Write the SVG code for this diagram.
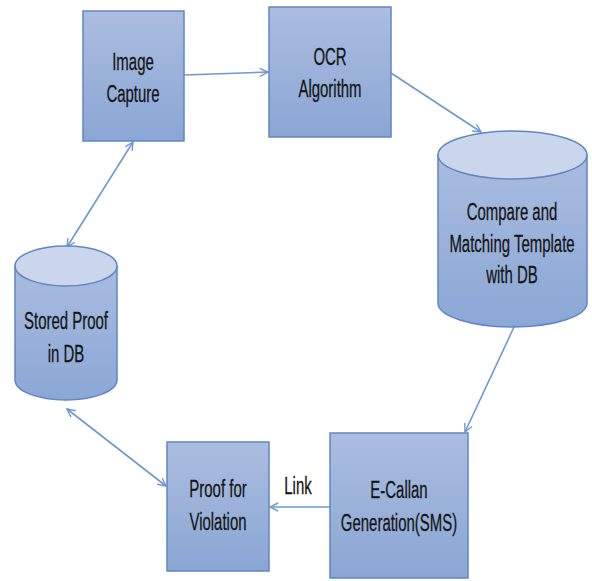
<svg xmlns="http://www.w3.org/2000/svg" width="592" height="581" viewBox="0 0 592 581">
  <defs>
    <linearGradient id="boxFill" x1="0" y1="0" x2="0" y2="1">
      <stop offset="0" stop-color="#abbde0"/>
      <stop offset="1" stop-color="#8aa6d4"/>
    </linearGradient>
    <linearGradient id="cylFill" x1="0" y1="0" x2="0" y2="1">
      <stop offset="0" stop-color="#a9bce0"/>
      <stop offset="1" stop-color="#8ba7d5"/>
    </linearGradient>
    <marker id="chev" viewBox="0 0 10 10" refX="9" refY="5" markerWidth="10" markerHeight="10" markerUnits="userSpaceOnUse" orient="auto-start-reverse">
      <path d="M1,1 L9,5 L1,9" fill="none" stroke="#6f97d2" stroke-width="1.4"/>
    </marker>
    <style>
      .box { fill: url(#boxFill); stroke: #5f87c3; stroke-width: 1.5; }
      .cyl { fill: url(#cylFill); stroke: #5f87c3; stroke-width: 1.5; }
      .cyltop { fill: #c9d6ec; stroke: #5f87c3; stroke-width: 1.5; }
      .lbl { font-family: "Liberation Sans", Arial, sans-serif; font-size: 22px; fill: #141414; text-anchor: middle; stroke: #141414; stroke-width: 0.25; }
      .conn { fill: none; stroke: #6f97d2; stroke-width: 1.6; }
    </style>
  </defs>

  <rect width="592" height="581" fill="#ffffff"/>

  <!-- connectors -->
  <g id="connectors">
    <line class="conn" x1="184" y1="75" x2="268" y2="72" marker-end="url(#chev)"/>
    <line class="conn" x1="391" y1="73" x2="481" y2="132" marker-end="url(#chev)"/>
    <line class="conn" x1="514" y1="327" x2="465" y2="432" marker-end="url(#chev)"/>
    <line class="conn" x1="330" y1="507" x2="270" y2="507" marker-end="url(#chev)"/>
    <line class="conn" x1="133" y1="142" x2="67" y2="247" marker-start="url(#chev)" marker-end="url(#chev)"/>
    <line class="conn" x1="67" y1="409" x2="166" y2="486" marker-start="url(#chev)" marker-end="url(#chev)"/>
    <text class="lbl" transform="translate(298 494) scale(0.68 1.08)">Link</text>
  </g>

  <!-- Image Capture -->
  <g id="image-capture">
    <rect class="box" x="83" y="11" width="101" height="130"/>
    <text class="lbl" transform="translate(133 70) scale(0.68 1.08)">Image</text>
    <text class="lbl" transform="translate(133 102) scale(0.68 1.08)">Capture</text>
  </g>

  <!-- OCR Algorithm -->
  <g id="ocr-algorithm">
    <rect class="box" x="269" y="7" width="122" height="130"/>
    <text class="lbl" transform="translate(330 65) scale(0.68 1.08)">OCR</text>
    <text class="lbl" transform="translate(330 97) scale(0.68 1.08)">Algorithm</text>
  </g>

  <!-- Compare and Matching Template with DB -->
  <g id="compare-db">
    <path class="cyl" d="M438,155 L438,303 A74.5,24 0 0 0 587,303 L587,155 Z"/>
    <ellipse class="cyltop" cx="512.5" cy="155" rx="74.5" ry="24"/>
    <text class="lbl" transform="translate(512 220) scale(0.68 1.08)">Compare and</text>
    <text class="lbl" transform="translate(512 252) scale(0.68 1.08)">Matching Template</text>
    <text class="lbl" transform="translate(512 283) scale(0.68 1.08)">with DB</text>
  </g>

  <!-- Stored Proof in DB -->
  <g id="stored-proof">
    <path class="cyl" d="M15,266 L15,380 A51,20 0 0 0 117,380 L117,266 Z"/>
    <ellipse class="cyltop" cx="66" cy="266" rx="51" ry="20"/>
    <text class="lbl" transform="translate(66 329) scale(0.68 1.08)">Stored Proof</text>
    <text class="lbl" transform="translate(66 362) scale(0.68 1.08)">in DB</text>
  </g>

  <!-- Proof for Violation -->
  <g id="proof-violation">
    <rect class="box" x="167" y="442" width="102" height="129"/>
    <text class="lbl" transform="translate(218 497) scale(0.68 1.08)">Proof for</text>
    <text class="lbl" transform="translate(218 530) scale(0.68 1.08)">Violation</text>
  </g>

  <!-- E-Callan Generation(SMS) -->
  <g id="e-callan">
    <rect class="box" x="330" y="433" width="138" height="145"/>
    <text class="lbl" transform="translate(399 498) scale(0.68 1.08)">E-Callan</text>
    <text class="lbl" transform="translate(399 531) scale(0.68 1.08)">Generation(SMS)</text>
  </g>
</svg>
